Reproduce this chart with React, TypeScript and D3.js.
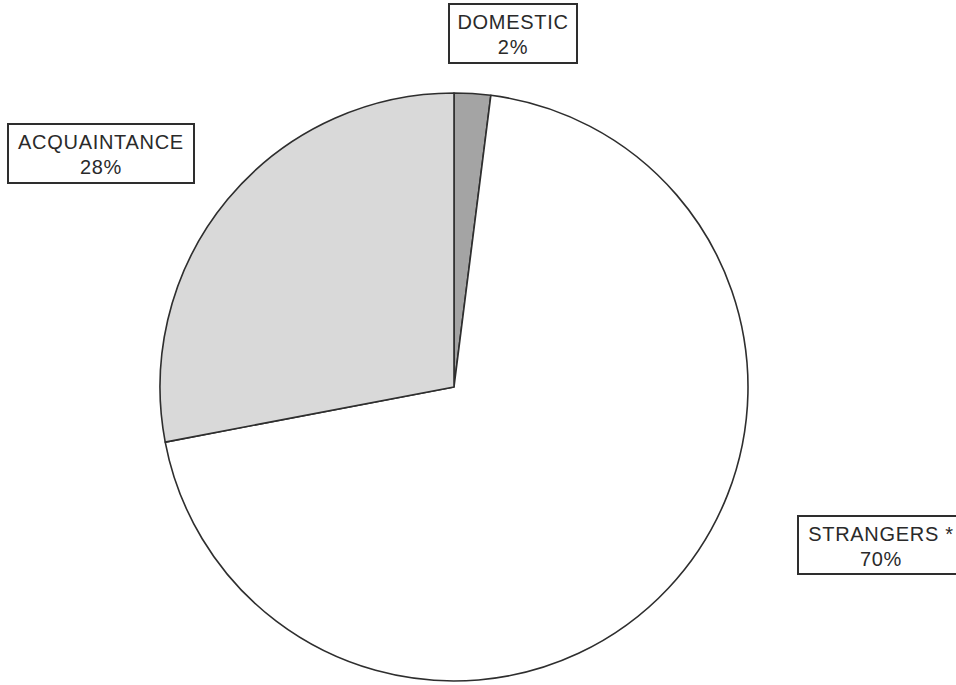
import React from "react";
import * as d3 from "d3";

const categories = ["DOMESTIC", "STRANGERS *", "ACQUAINTANCE"];
const values = [2, 70, 28];
const percentLabels = ["2%", "70%", "28%"];
const fills = ["#a4a4a4", "#ffffff", "#d9d9d9"];

const W = 956;
const H = 685;
const cx = 454;
const cy = 387;
const R = 294;

// label box layouts (x, y, width, height)
const boxes = [
  { x: 449, y: 4, w: 128, h: 59 },
  { x: 798, y: 516, w: 166, h: 58 },
  { x: 8, y: 124, w: 186, h: 59 },
];

export default function App() {
  const pie = d3
    .pie<number>()
    .sort(null)
    .value((d) => d)
    .startAngle(0)
    .endAngle(2 * Math.PI);
  const arcs = pie(values);
  const arc = d3.arc<d3.PieArcDatum<number>>().innerRadius(0).outerRadius(R);

  return (
    <svg
      width={W}
      height={H}
      style={{ position: "absolute", left: 0, top: 0, background: "#ffffff" }}
    >
      <rect x={0} y={0} width={W} height={H} fill="#ffffff" />
      <g transform={`translate(${cx},${cy})`}>
        {arcs.map((a, i) => (
          <path
            key={i}
            d={arc(a) || ""}
            fill={fills[i]}
            stroke="#2e2e2e"
            strokeWidth={1.6}
            strokeLinejoin="round"
          />
        ))}
      </g>
      {categories.map((c, i) => {
        const b = boxes[i];
        const tx = b.x + b.w / 2;
        return (
          <g key={c}>
            <rect
              x={b.x}
              y={b.y}
              width={b.w}
              height={b.h}
              fill="#ffffff"
              stroke="#2e2e2e"
              strokeWidth={2}
            />
            <text
              x={tx}
              y={b.y + 24.5}
              textAnchor="middle"
              fontFamily="'Liberation Sans', Arial, sans-serif"
              fontSize={20}
              letterSpacing={0.7}
              fill="#2a2a2a"
            >
              {c}
            </text>
            <text
              x={tx}
              y={b.y + 50}
              textAnchor="middle"
              fontFamily="'Liberation Sans', Arial, sans-serif"
              fontSize={20}
              letterSpacing={0.7}
              fill="#2a2a2a"
            >
              {percentLabels[i]}
            </text>
          </g>
        );
      })}
    </svg>
  );
}
